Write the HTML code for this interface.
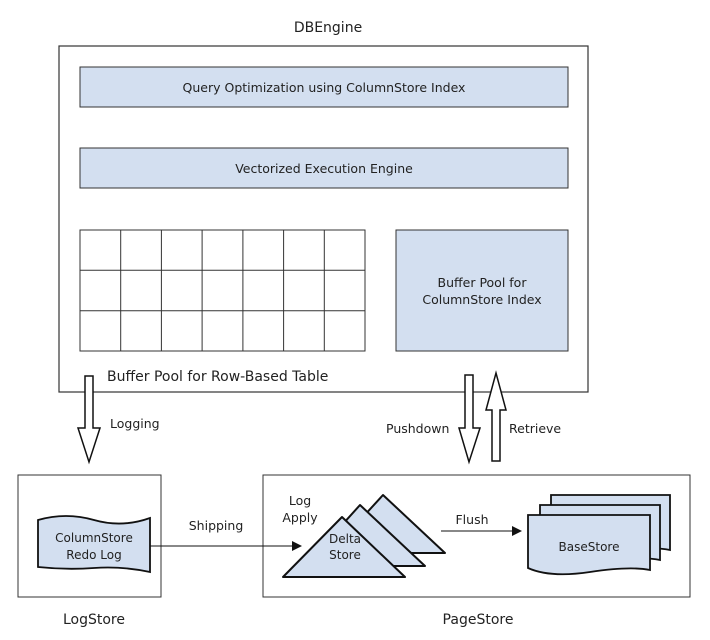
<!DOCTYPE html>
<html><head><style>
body{margin:0;background:#fff;}
svg{display:block;font-family:"DejaVu Sans","Liberation Sans",sans-serif;}
</style></head><body>
<svg width="710" height="640" viewBox="0 0 710 640" xmlns="http://www.w3.org/2000/svg">
<g fill="#222" font-size="13">
<text x="328" y="32" text-anchor="middle" font-size="14">DBEngine</text>
</g>
<rect x="59" y="46" width="529" height="346" fill="#fff" stroke="#333" stroke-width="1.2"/>
<rect x="80" y="67" width="488" height="40" fill="#d3dff0" stroke="#333"/>
<text x="324" y="92" text-anchor="middle" font-size="12.5" fill="#222">Query Optimization using ColumnStore Index</text>
<rect x="80" y="148" width="488" height="40" fill="#d3dff0" stroke="#333"/>
<text x="324" y="173" text-anchor="middle" font-size="12.5" fill="#222">Vectorized Execution Engine</text>
<g stroke="#333" fill="none">
<rect x="80" y="230" width="285" height="121"/>
<line x1="120.7" y1="230" x2="120.7" y2="351"/><line x1="161.4" y1="230" x2="161.4" y2="351"/>
<line x1="202.1" y1="230" x2="202.1" y2="351"/><line x1="242.9" y1="230" x2="242.9" y2="351"/>
<line x1="283.6" y1="230" x2="283.6" y2="351"/><line x1="324.3" y1="230" x2="324.3" y2="351"/>
<line x1="80" y1="270.3" x2="365" y2="270.3"/><line x1="80" y1="310.7" x2="365" y2="310.7"/>
</g>
<rect x="396" y="230" width="172" height="121" fill="#d3dff0" stroke="#333"/>
<text x="482" y="287" text-anchor="middle" font-size="12.5" fill="#222">Buffer Pool for</text>
<text x="482" y="304" text-anchor="middle" font-size="12.5" fill="#222">ColumnStore Index</text>
<text x="107" y="381" font-size="14" fill="#222">Buffer Pool for Row-Based Table</text>
<!-- arrows -->
<polygon points="85,376 93,376 93,428 100,428 89,462 78,428 85,428" fill="#fff" stroke="#111" stroke-width="1.5"/>
<text x="110" y="428" font-size="12.5" fill="#222">Logging</text>
<polygon points="465,375 473,375 473,428 480,428 469,462 459,428 465,428" fill="#fff" stroke="#111" stroke-width="1.5"/>
<polygon points="492,461 500,461 500,410 506,410 496,373 486,410 492,410" fill="#fff" stroke="#111" stroke-width="1.5"/>
<text x="386" y="433" font-size="12.5" fill="#222">Pushdown</text>
<text x="509" y="433" font-size="12.5" fill="#222">Retrieve</text>
<!-- LogStore -->
<rect x="18" y="475" width="143" height="122" fill="#fff" stroke="#333"/>
<path d="M38,520 Q66,512 94,520 T150,518 L150,572 Q122,566 94,568 T38,567 Z" fill="#d3dff0" stroke="#111" stroke-width="1.8"/>
<text x="94" y="542" text-anchor="middle" font-size="12" fill="#222">ColumnStore</text>
<text x="94" y="559" text-anchor="middle" font-size="12" fill="#222">Redo Log</text>
<text x="94" y="624" text-anchor="middle" font-size="14" fill="#222">LogStore</text>
<!-- PageStore -->
<rect x="263" y="475" width="427" height="122" fill="#fff" stroke="#333"/>
<text x="478" y="624" text-anchor="middle" font-size="14" fill="#222">PageStore</text>
<line x1="150" y1="546" x2="296" y2="546" stroke="#111"/>
<polygon points="302,546 292,541 292,551" fill="#111"/>
<text x="216" y="530" text-anchor="middle" font-size="12.5" fill="#222">Shipping</text>
<text x="300" y="505" text-anchor="middle" font-size="12.5" fill="#222">Log</text>
<text x="300" y="522" text-anchor="middle" font-size="12.5" fill="#222">Apply</text>
<g fill="#d3dff0" stroke="#111" stroke-width="2" stroke-linejoin="round">
<polygon points="330,553 383,495 445,553"/>
<polygon points="305,566 360,505 425,566"/>
<polygon points="283,577 342,517 405,577"/>
</g>
<text x="345" y="543" text-anchor="middle" font-size="12" fill="#222">Delta</text>
<text x="345" y="559" text-anchor="middle" font-size="12" fill="#222">Store</text>
<line x1="441" y1="531" x2="515" y2="531" stroke="#111"/>
<polygon points="522,531 512,526 512,536" fill="#111"/>
<text x="472" y="524" text-anchor="middle" font-size="12.5" fill="#222">Flush</text>
<g fill="#d3dff0" stroke="#111" stroke-width="1.8">
<path d="M551,495 L670,495 L670,550 Q650,546 610,552 T551,548 Z"/>
<path d="M540,505 L660,505 L660,560 Q640,556 600,562 T540,558 Z"/>
<path d="M528,515 L650,515 L650,570 Q630,566 590,572 T528,568 Z"/>
</g>
<text x="589" y="551" text-anchor="middle" font-size="12" fill="#222">BaseStore</text>
</svg>
</body></html>
